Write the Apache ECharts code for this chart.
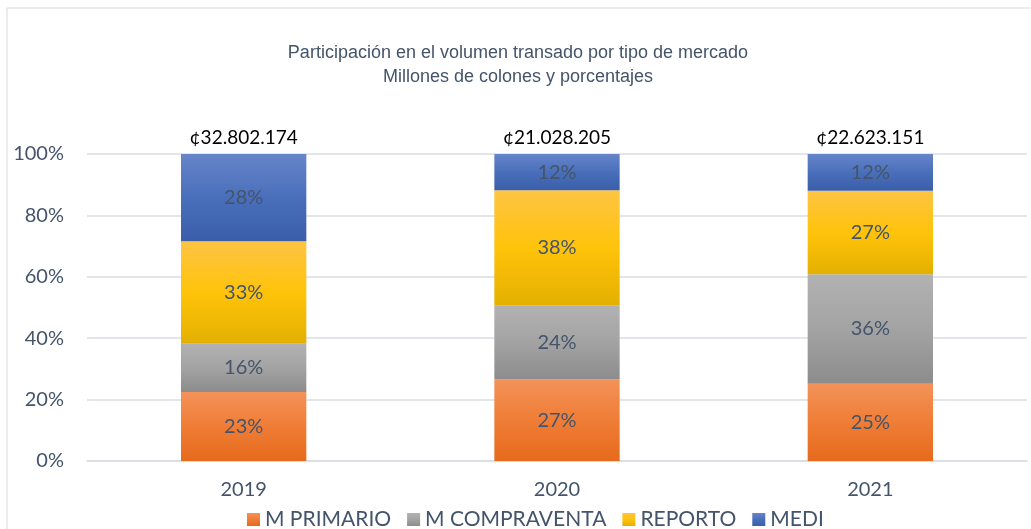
<!DOCTYPE html>
<html>
<head>
<meta charset="utf-8">
<script src="https://cdn.jsdelivr.net/npm/echarts@6/dist/echarts.min.js"></script>
<style>
  html, body { margin: 0; padding: 0; background: #fff; }
  #chart { width: 1031px; height: 529px; }
</style>
</head>
<body>
<div id="chart"></div>
<script>
const years = ['2019', '2020', '2021'];
const totals = ['¢32.802.174', '¢21.028.205', '¢22.623.151'];
const primario = [22.5, 26.6, 25.2];
const compraventa = [15.7, 24.1, 35.6];
const reporto = [33.4, 37.5, 27.2];
const medi = [28.4, 11.8, 12.0];

const LABEL_COLOR = '#44546A';
const FONT = 'Lato';

function grad(top, mid, bottom) {
    return new echarts.graphic.LinearGradient(0, 0, 0, 1, [
        { offset: 0, color: top },
        { offset: 0.5, color: mid },
        { offset: 1, color: bottom },
    ]);
}

const styles = {
    'M PRIMARIO': grad('#F39259', '#EF7D36', '#E66A1C'),
    'M COMPRAVENTA': grad('#B2B2B2', '#A3A3A3', '#8C8C8C'),
    'REPORTO': grad('#FDC444', '#FFC30A', '#E3B000'),
    'MEDI': grad('#6685CA', '#4A6FBA', '#3A5EA9'),
};

function segment(name, data) {
    return {
        name,
        type: 'bar',
        stack: 'total',
        barCategoryGap: '60%',
        data,
        itemStyle: { color: styles[name] },
        label: {
            show: true,
            position: 'inside',
            color: LABEL_COLOR,
            fontFamily: FONT,
            fontSize: 20,
            formatter: (p) => Math.round(p.value) + '%',
        },
    };
}

const chart = echarts.init(document.getElementById('chart'));
chart.setOption({
    animation: false,
    textStyle: { fontFamily: FONT },
    title: {
        text: 'Participación en el volumen transado por tipo de mercado\nMillones de colones y porcentajes',
        left: 513,
        textAlign: 'center',
        top: 36,
        textStyle: {
            fontFamily: 'Liberation Sans',
            fontSize: 18,
            fontWeight: 'normal',
            color: '#44546A',
            lineHeight: 24,
        },
    },
    graphic: [{
        type: 'rect',
        shape: { x: 7, y: 8, width: 1040, height: 540 },
        style: { fill: 'none', stroke: '#D9D9D9', lineWidth: 1 },
        silent: true,
    }],
    legend: {
        data: ['M PRIMARIO', 'M COMPRAVENTA', 'REPORTO', 'MEDI'],
        top: 504,
        left: 242,
        itemWidth: 13,
        itemHeight: 13,
        itemGap: 16,
        icon: 'rect',
        textStyle: { color: LABEL_COLOR, fontFamily: FONT, fontSize: 21 },
    },
    grid: { left: 87, right: 4, top: 154, bottom: 68 },
    xAxis: {
        type: 'category',
        data: years,
        axisLine: { lineStyle: { color: '#D9DDE3', width: 1.5 } },
        axisTick: { show: false },
        axisLabel: { color: LABEL_COLOR, fontFamily: FONT, fontSize: 20, margin: 19 },
    },
    yAxis: {
        type: 'value',
        min: 0,
        max: 100,
        interval: 20,
        axisLine: { show: false },
        axisTick: { show: false },
        splitLine: { lineStyle: { color: '#D9DDE3', width: 1.5 } },
        axisLabel: {
            color: LABEL_COLOR,
            fontFamily: FONT,
            fontSize: 20,
            margin: 23,
            formatter: '{value}%',
        },
    },
    series: [
        segment('M PRIMARIO', primario),
        segment('M COMPRAVENTA', compraventa),
        segment('REPORTO', reporto),
        segment('MEDI', medi),
        {
            name: 'Total',
            type: 'bar',
            stack: 'total',
            data: years.map(() => 0),
            itemStyle: { color: 'transparent' },
            label: {
                show: true,
                position: 'top',
                distance: 7,
                color: '#000',
                fontFamily: FONT,
                fontSize: 19,
                formatter: (p) => totals[p.dataIndex],
            },
        },
    ],
});
</script>
</body>
</html>
